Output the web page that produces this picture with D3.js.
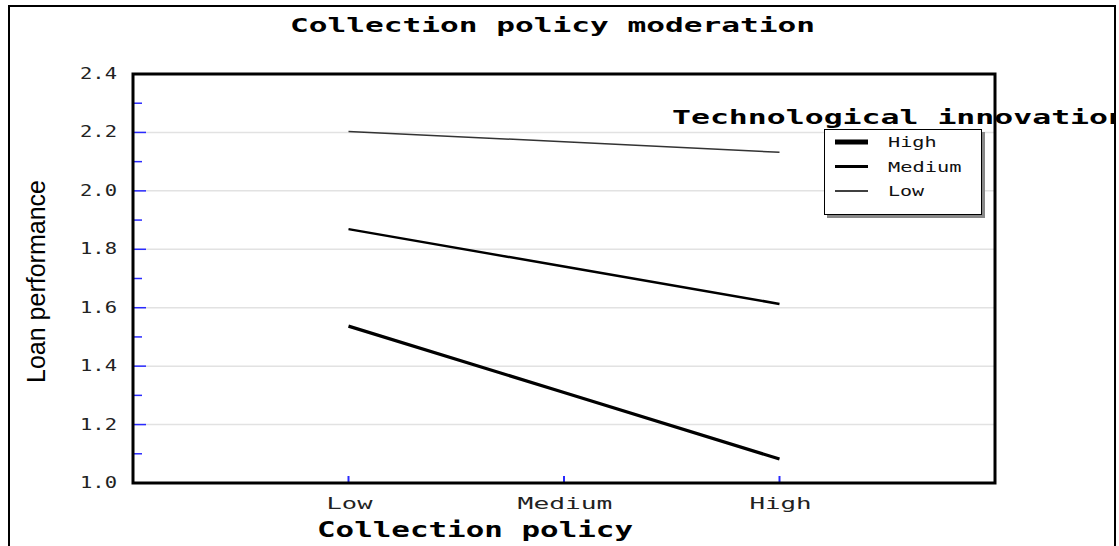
<!DOCTYPE html>
<html><head><meta charset="utf-8">
<script src="https://cdn.jsdelivr.net/npm/d3@7"></script>
<style>body{margin:0;background:#fff}svg{display:block}</style>
</head><body>
<script>
const categories = ["Low","Medium","High"];
const seriesNames = ["High","Medium","Low"];
const seriesHigh = [1.537, 1.310, 1.082];
const seriesMedium = [1.869, 1.741, 1.613];
const seriesLow = [2.203, 2.168, 2.132];
const yTicks = [1.0,1.2,1.4,1.6,1.8,2.0,2.2,2.4];
const yMinor = [1.1,1.3,1.5,1.7,1.9,2.1,2.3];
const title = "Collection policy moderation";
const xTitle = "Collection policy";
const yTitle = "Loan performance";
const legendTitle = "Technological innovation";

const W=1119,H=546;
const svg=d3.select("body").append("svg").attr("width",W).attr("height",H);
const L=133,R=995,T=74,B=483;
const x=d3.scaleLinear().domain([0,4]).range([L,R]);
const y=d3.scaleLinear().domain([1.0,2.4]).range([B,T]);
const mono="'DejaVu Sans Mono','Liberation Mono',monospace";

// outer frame
svg.append("rect").attr("x",9).attr("y",6).attr("width",1106).attr("height",600)
 .attr("fill","none").attr("stroke","#000").attr("stroke-width",2);

// gridlines
svg.append("g").selectAll("line").data(yTicks.filter(d=>d>1.0&&d<2.4)).join("line")
 .attr("x1",L).attr("x2",R).attr("y1",d=>y(d)).attr("y2",d=>y(d))
 .attr("stroke","#e2e2e2").attr("stroke-width",1.5);

// y ticks
svg.append("g").selectAll("line").data(yTicks.filter(d=>d>1.0&&d<2.4)).join("line")
 .attr("x1",L).attr("x2",L+13).attr("y1",d=>y(d)).attr("y2",d=>y(d))
 .attr("stroke","#2a2aff").attr("stroke-width",1.5);
svg.append("g").selectAll("line").data(yMinor).join("line")
 .attr("x1",L).attr("x2",L+9).attr("y1",d=>y(d)).attr("y2",d=>y(d))
 .attr("stroke","#2a2aff").attr("stroke-width",1.5);
// y tick labels
svg.append("g").selectAll("text").data(yTicks).join("text")
 .attr("x",117).attr("y",d=>y(d)+5).attr("text-anchor","end")
 .attr("textLength",37).attr("lengthAdjust","spacingAndGlyphs")
 .style("font-family",mono).style("font-size","15px")
 .attr("fill","#222").text(d=>d.toFixed(1));

// x ticks
svg.append("g").selectAll("line").data(categories).join("line")
 .attr("x1",(d,i)=>x(i+1)).attr("x2",(d,i)=>x(i+1)).attr("y1",B).attr("y2",B-7)
 .attr("stroke","#2a2aff").attr("stroke-width",2);
svg.append("g").selectAll("text").data(categories).join("text")
 .attr("x",(d,i)=>x(i+1)+1).attr("y",509).attr("text-anchor","middle")
 .attr("textLength",d=>16.3*d.length-3).attr("lengthAdjust","spacingAndGlyphs")
 .style("font-family",mono).style("font-size","16px")
 .attr("fill","#222").text(d=>d);

// series lines
const series=[{name:"High",vals:seriesHigh,w:3.2},{name:"Medium",vals:seriesMedium,w:2.5},{name:"Low",vals:seriesLow,w:1.5}];
const line=d3.line().x((d,i)=>x(i+1)).y(d=>y(d));
svg.append("g").selectAll("path").data(series).join("path")
 .attr("d",d=>line(d.vals)).attr("fill","none").attr("stroke",d=>d.name==="Low"?"#333":"#000")
 .attr("stroke-width",d=>d.w);

// legend title (clipped at outer frame as in the reference)
svg.append("clipPath").attr("id","clipF").append("rect").attr("x",0).attr("y",0).attr("width",1114).attr("height",H);
svg.append("text").attr("x",672).attr("y",124).attr("clip-path","url(#clipF)")
 .attr("textLength",455).attr("lengthAdjust","spacingAndGlyphs")
 .style("font-family",mono).style("font-size","19px").style("font-weight","bold")
 .attr("fill","#000").text(legendTitle);

// plot border
svg.append("rect").attr("x",L).attr("y",T).attr("width",R-L).attr("height",B-T)
 .attr("fill","none").attr("stroke","#000").attr("stroke-width",3);

// legend box
svg.append("rect").attr("x",827).attr("y",132).attr("width",158).attr("height",86).attr("fill","#888");
svg.append("rect").attr("x",824.5).attr("y",129.5).attr("width",157).attr("height",85)
 .attr("fill","#fff").attr("stroke","#000").attr("stroke-width",1);
const lw={High:5,Medium:3,Low:1.5};
const lg=svg.append("g").selectAll("g").data(seriesNames).join("g")
 .attr("transform",(d,i)=>`translate(0,${142+i*24.5})`);
lg.append("line").attr("x1",835).attr("x2",868).attr("y1",0).attr("y2",0)
 .attr("stroke","#000").attr("stroke-width",d=>lw[d]);
lg.append("text").attr("x",888).attr("y",5)
 .attr("textLength",d=>12.4*d.length-1).attr("lengthAdjust","spacingAndGlyphs")
 .style("font-family",mono).style("font-size","14px")
 .attr("fill","#111").text(d=>d);

// titles
svg.append("text").attr("x",290).attr("y",32)
 .attr("textLength",525).attr("lengthAdjust","spacingAndGlyphs")
 .style("font-family",mono).style("font-size","19px").style("font-weight","bold")
 .attr("fill","#000").text(title);
svg.append("text").attr("x",317).attr("y",537)
 .attr("textLength",316).attr("lengthAdjust","spacingAndGlyphs")
 .style("font-family",mono).style("font-size","21px").style("font-weight","bold")
 .attr("fill","#000").text(xTitle);
svg.append("text").attr("transform","translate(45,383) rotate(-90)")
 .attr("textLength",203).attr("lengthAdjust","spacingAndGlyphs")
 .style("font-family","'Liberation Sans',Arial,sans-serif").style("font-size","26px")
 .attr("fill","#000").text(yTitle);
</script>
</body></html>
